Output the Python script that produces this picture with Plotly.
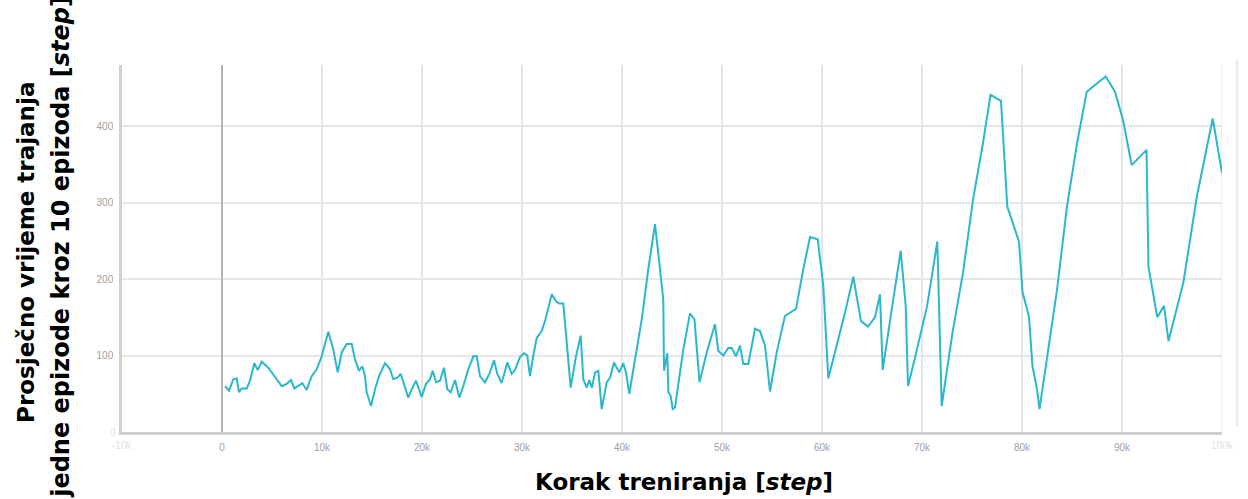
import plotly.graph_objects as go

# Training step and average episode duration
steps = [300, 700, 1130, 1470, 1700, 1970, 2470, 2800, 3230, 3570, 3970, 4630, 5470, 5970,
         6470, 6900, 7230, 7630, 8030, 8470, 8970, 9470, 9970, 10630, 11130, 11570, 11970,
         12470, 12970, 13300, 13700, 14030, 14300, 14470, 14900, 15300, 15700, 16300, 16800,
         17130, 17530, 17870, 18130, 18630, 18970, 19400, 19970, 20400, 20800, 21070, 21400,
         21800, 22200, 22530, 22870, 23300, 23730, 24130, 24630, 25130, 25470, 25800, 26300,
         26800, 27200, 27530, 27970, 28530, 28970, 29300, 29800, 30200, 30530, 30800, 31130,
         31470, 31970, 32300, 32970, 33400, 33730, 34130, 34870, 35400, 35870, 36130, 36470,
         36730, 37000, 37300, 37630, 37970, 38470, 38800, 39200, 39730, 40130, 40400, 40730,
         41300, 41970, 42630, 43300, 43800, 44130, 44200, 44530, 44630, 44870, 45070, 45300,
         46130, 46800, 47250, 47750, 48470, 49300, 49630, 50130, 50630, 50970, 51400, 51800,
         52130, 52630, 53300, 53800, 54300, 54800, 55470, 56300, 56800, 57400, 58130, 58800,
         59570, 60130, 60630, 61470, 62300, 63130, 63900, 64600, 65300, 65800, 66070, 66970,
         67870, 68370, 68600, 69300, 70500, 71530, 71970, 73050, 74100, 75100, 76100, 76850,
         77900, 78530, 79700, 80050, 80700, 81050, 81500, 81750, 83500, 84500, 85500, 86470,
         88370, 89300, 90100, 90970, 92450, 92650, 93530, 94200, 94650, 96130, 97500, 99070,
         100000]
durations = [60, 54, 69, 70, 52, 57, 57, 67, 90, 81, 92, 84, 69, 60,
             63, 68, 57, 60, 64, 55, 73, 82, 99, 131, 108, 78, 104,
             115, 115, 95, 80, 86, 73, 52, 34, 56, 73, 90, 82,
             69, 71, 76, 65, 45, 56, 67, 46, 63, 69, 80, 65,
             67, 84, 56, 52, 68, 45, 60, 82, 99, 99, 73, 65,
             78, 94, 76, 64, 91, 76, 81, 98, 103, 100, 73, 100,
             123, 132, 145, 180, 171, 168, 168, 58, 99, 126, 69, 58,
             68, 58, 78, 80, 30, 65, 71, 91, 78, 90, 78, 50,
             93, 147, 213, 272, 213, 173, 80, 103, 52, 47, 30, 32,
             108, 155, 147, 65, 104, 141, 106, 100, 110, 110, 99, 113,
             89, 89, 135, 132, 113, 53, 104, 152, 156, 161, 213, 255,
             252, 191, 70, 113, 156, 203, 145, 138, 150, 180, 81, 160,
             237, 165, 60, 97, 164, 249, 34, 130, 208, 304, 378, 441,
             433, 295, 249, 183, 151, 86, 56, 30, 186, 295, 377, 445,
             465, 445, 408, 349, 369, 216, 150, 165, 119, 195, 309, 410,
             339]

x_tickvals = [0, 10000, 20000, 30000, 40000, 50000, 60000, 70000, 80000, 90000]
x_ticktext = ["0", "10k", "20k", "30k", "40k", "50k", "60k", "70k", "80k", "90k"]
y_tickvals = [100, 200, 300, 400]
y_ticktext = ["100", "200", "300", "400"]

fig = go.Figure()
fig.add_trace(go.Scatter(x=steps, y=durations, mode="lines",
                         line=dict(color="#2bb7cc", width=2), showlegend=False))

tick_font = dict(family="Liberation Sans, Arial, sans-serif", size=10, color="#a0a0a0")

fig.update_layout(
    width=1248, height=499,
    margin=dict(l=122, r=26, t=65, b=67),
    paper_bgcolor="white", plot_bgcolor="white",
    xaxis=dict(range=[-10000, 100000], tickvals=x_tickvals, ticktext=x_ticktext,
               showgrid=True, gridcolor="#e6e6e6", gridwidth=1.5,
               zeroline=True, zerolinecolor="#b4b4b4", zerolinewidth=1.5,
               showline=True, linecolor="#cfcfcf", linewidth=2.5,
               ticks="", tickfont=tick_font, ticklabelstandoff=4),
    yaxis=dict(range=[0, 480], tickvals=y_tickvals, ticktext=y_ticktext,
               showgrid=True, gridcolor="#e6e6e6", gridwidth=1.5,
               zeroline=False, showline=True, linecolor="#cfcfcf", linewidth=2.5,
               ticks="", tickfont=tick_font, ticklabelstandoff=4),
)

# right-edge gridline at 100k
fig.add_shape(type="line", xref="x", yref="paper", x0=100000, x1=100000, y0=0, y1=1,
              line=dict(color="#e6e6e6", width=1.5), layer="below")
# light border at far right
fig.add_shape(type="line", xref="paper", yref="paper", x0=1.0136, x1=1.0136, y0=0.014, y1=1.014,
              line=dict(color="#eeeeee", width=3))

faint = dict(family="Liberation Sans, Arial, sans-serif", size=10, color="#e2e2e2")
fig.add_annotation(x=-10000, y=-0.015, xref="x", yref="paper", text="-10k", showarrow=False,
                   yanchor="top", font=faint)
fig.add_annotation(x=100000, y=-0.015, xref="x", yref="paper", text="100k", showarrow=False,
                   yanchor="top", font=faint)
fig.add_annotation(x=-0.004, y=0, xref="paper", yref="y", text="0", showarrow=False,
                   xanchor="right", font=faint)

title_font = dict(family="DejaVu Sans, sans-serif", size=23, color="black")
title_font2 = dict(family="DejaVu Sans, sans-serif", size=24, color="black")
# y-axis title, two lines (line 1 centred at x~26px, line 2 at x~61px)
fig.add_annotation(x=(26 - 122) / 1100, y=0.488, xref="paper", yref="paper", textangle=-90,
                   text="<b>Prosječno vrijeme trajanja</b>",
                   showarrow=False, xanchor="center", yanchor="middle", font=title_font)
fig.add_annotation(x=(61 - 122) / 1100, y=(432.3 - 247) / 367.3, xref="paper", yref="paper",
                   textangle=-90,
                   text="<b>jedne epizode kroz 10 epizoda [<i>step</i>]</b>",
                   showarrow=False, xanchor="center", yanchor="middle", font=title_font2)
fig.add_annotation(x=0.511, y=-0.136, xref="paper", yref="paper",
                   text="<b>Korak treniranja [<i>step</i>]</b>",
                   showarrow=False, xanchor="center", yanchor="middle", font=title_font)

fig.write_html("out.html", config={"displayModeBar": False},
               post_script="document.body.style.margin='0px';")
